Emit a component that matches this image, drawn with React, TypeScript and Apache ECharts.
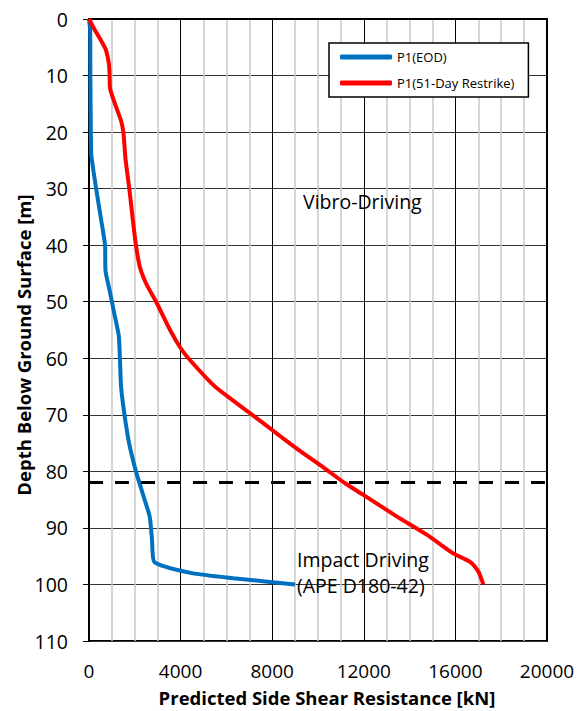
import React, { useEffect, useRef } from "react";
import * as echarts from "echarts";

// P1 (EOD) — side shear resistance [kN] vs depth [m]
const eodResistance = [0, 50, 60, 80, 100, 200, 350, 550, 700, 720, 900, 1100, 1300, 1350, 1400, 1550, 1750, 2050, 2350, 2650, 2750, 2850, 4500, 6300, 9000];
const eodDepth = [0, 2, 10, 20, 24, 27, 31, 36, 40, 44.5, 48, 52, 56, 60, 65, 70, 75, 80, 84, 88, 92, 96, 98, 98.9, 100];

// P1 (51-Day Restrike)
const restrikeResistance = [0, 262, 553, 742, 873, 900, 920, 1135, 1400, 1500, 1560, 1600, 1760, 1900, 2050, 2230, 2520, 2930, 3540, 3970, 4340, 5500, 7030, 8100, 9150, 10300, 11180, 12000, 13450, 14750, 15900, 16640, 17000, 17150, 17220];
const restrikeDepth = [0, 2, 4, 5.5, 8, 10, 12.3, 15, 18, 20, 23, 25, 30, 35, 40, 44, 47, 50, 55, 58, 60, 65, 69.7, 73, 76.2, 79.5, 82.1, 84.2, 88, 91.2, 94.5, 96, 97.7, 99.2, 100];

const seriesNames = ["P1(EOD)", "P1(51-Day Restrike)"];
const boundaryDepth = 82;
const xTicks = { min: 0, max: 20000, interval: 4000 };
const yTicks = { min: 0, max: 110, interval: 10 };
const xTitle = "Predicted Side Shear Resistance [kN]";
const yTitle = "Depth Below Ground Surface [m]";
const zoneLabels = ["Vibro-Driving", "Impact Driving\n(APE D180-42)"];

const FONT = "Open Sans";

export default function App() {
  const ref = useRef<HTMLDivElement>(null);
  useEffect(() => {
    if (!ref.current) return;
    const chart = echarts.init(ref.current, undefined, { renderer: "svg" });
    const zip = (xs: number[], ys: number[]) => xs.map((x, i) => [x, ys[i]]);
    chart.setOption({
      animation: false,
      backgroundColor: "#ffffff",
      grid: {
        left: 89,
        top: 19,
        width: 458,
        height: 622,
        show: true,
        borderColor: "#000",
        borderWidth: 2,
        backgroundColor: "transparent",
      },
      legend: {
        orient: "vertical",
        left: 329,
        top: 43,
        backgroundColor: "#fff",
        borderColor: "#000",
        borderWidth: 1.5,
        borderRadius: 0,
        padding: [6, 14, 6, 11],
        itemGap: 10,
        itemWidth: 52,
        itemHeight: 5,
        icon: "roundRect",
        textStyle: { fontFamily: FONT, fontSize: 13, color: "#000", lineHeight: 16 },
        data: seriesNames,
      },
      xAxis: {
        type: "value",
        min: xTicks.min,
        max: xTicks.max,
        interval: xTicks.interval,
        axisLine: { lineStyle: { color: "#000", width: 2 } },
        axisTick: { show: true, inside: false, length: 6, lineStyle: { color: "#000", width: 1 } },
        axisLabel: {
          fontFamily: FONT,
          fontSize: 19,
          lineHeight: 19,
          color: "#000",
          margin: 20,
          formatter: (v: number) => String(v),
        },
        splitLine: { show: true, lineStyle: { color: "#000", width: 1 } },
        minorTick: { show: false, splitNumber: 4 },
        minorSplitLine: { show: true, lineStyle: { color: "#c8c8c8", width: 1.5 } },
      },
      yAxis: {
        type: "value",
        inverse: true,
        min: yTicks.min,
        max: yTicks.max,
        interval: yTicks.interval,
        axisLine: { lineStyle: { color: "#000", width: 2 } },
        axisTick: { show: true, inside: false, length: 6, lineStyle: { color: "#000", width: 1 } },
        axisLabel: { fontFamily: FONT, fontSize: 19.5, color: "#000", margin: 21 },
        splitLine: { show: true, lineStyle: { color: "#333", width: 1 } },
      },
      series: [
        {
          name: seriesNames[0],
          type: "line",
          data: zip(eodResistance, eodDepth),
          symbol: "none",
          smooth: 0.2,
          lineStyle: { color: "#0070C0", width: 4 },
          itemStyle: { color: "#0070C0" },
          z: 3,
          markLine: {
            silent: true,
            symbol: "none",
            label: { show: false },
            lineStyle: { color: "#000", width: 3, type: [14, 12] },
            data: [{ yAxis: boundaryDepth }],
          },
        },
        {
          name: seriesNames[1],
          type: "line",
          data: zip(restrikeResistance, restrikeDepth),
          symbol: "none",
          smooth: 0.2,
          lineStyle: { color: "#FF0000", width: 4 },
          itemStyle: { color: "#FF0000" },
          z: 4,
        },
      ],
      graphic: [
        {
          type: "text",
          x: 327,
          y: 697,
          z: 10,
          style: {
            text: xTitle,
            fontFamily: FONT,
            fontSize: 18.5,
            lineHeight: 19,
            fontWeight: "bold",
            fill: "#000",
            textAlign: "center",
            textVerticalAlign: "middle",
          },
        },
        {
          type: "text",
          x: 23,
          y: 345,
          rotation: Math.PI / 2,
          z: 10,
          style: {
            text: yTitle,
            fontFamily: FONT,
            fontSize: 18.5,
            fontWeight: "bold",
            fill: "#000",
            textAlign: "center",
            textVerticalAlign: "middle",
          },
        },
        {
          type: "text",
          left: 303,
          top: 191,
          z: 10,
          style: { text: zoneLabels[0], fontFamily: FONT, fontSize: 19.5, fill: "#000" },
        },
        {
          type: "text",
          left: 297,
          top: 546,
          z: 10,
          style: { text: zoneLabels[1], fontFamily: FONT, fontSize: 19.5, lineHeight: 26, fill: "#000" },
        },
      ],
    });
    return () => chart.dispose();
  }, []);
  return <div ref={ref} style={{ position: "fixed", left: 0, top: 0, width: 581, height: 711 }} />;
}
